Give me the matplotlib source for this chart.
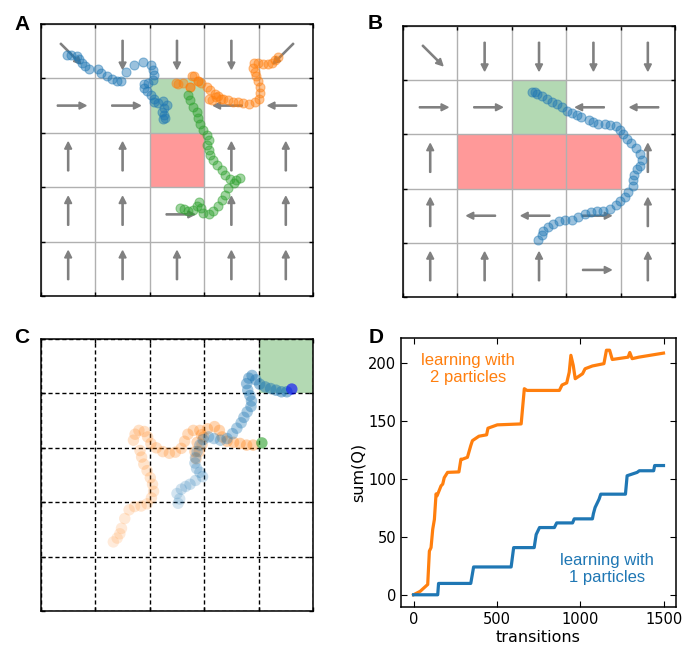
import numpy as np
import matplotlib
matplotlib.use("Agg")
import matplotlib.pyplot as plt
from matplotlib.patches import Rectangle

# ---------------- data ----------------
# policy arrows per grid row (top row first), per column
policy_a = [["DR", "D", "D", "D", "DL"],
            ["R", "R", "", "L", "L"],
            ["U", "U", "", "U", "U"],
            ["U", "U", "R", "U", "U"],
            ["U", "U", "U", "U", "U"]]
policy_b = [["DR", "D", "D", "D", "D"],
            ["R", "R", "", "L", "L"],
            ["U", "", "", "", "U"],
            ["U", "L", "L", "R", "U"],
            ["U", "U", "U", "R", "U"]]

goal_a = [(2, 3)]
hazard_a = [(2, 2)]
goal_b = [(2, 3)]
hazard_b = [(1, 2), (2, 2), (3, 2)]
goal_c = [(4, 4)]

# panel A trajectories
a_blue_x = [0.47, 0.56, 0.66, 0.70, 0.75, 0.81, 0.88, 1.04, 1.11, 1.21, 1.30, 1.39, 1.47, 1.57, 1.71,
            1.88, 2.02, 2.06, 2.08, 2.05, 1.97, 1.90, 1.90, 1.94, 2.02, 2.08, 2.08, 2.16, 2.24, 2.31,
            2.26, 2.22, 2.27, 2.28, 2.25]
a_blue_y = [4.43, 4.43, 4.41, 4.35, 4.28, 4.22, 4.17, 4.17, 4.10, 4.04, 3.98, 3.96, 3.95, 4.12, 4.25,
            4.30, 4.25, 4.15, 4.06, 3.97, 3.92, 3.90, 3.82, 3.76, 3.70, 3.62, 3.57, 3.55, 3.58, 3.52,
            3.46, 3.39, 3.32, 3.27, 3.25]
a_orange_x = [4.36, 4.30, 4.25, 4.18, 4.09, 3.99, 3.92, 3.90, 3.93, 3.96, 3.99, 4.03, 4.03, 4.01, 3.93,
              3.82, 3.72, 3.63, 3.53, 3.44, 3.35, 3.26, 3.19, 3.11, 3.08, 3.14, 3.22, 3.30, 3.05, 2.95,
              2.89, 2.82, 2.77, 2.74, 2.89, 2.74, 2.61, 2.52, 2.49]
a_orange_y = [4.40, 4.34, 4.28, 4.26, 4.26, 4.28, 4.29, 4.20, 4.12, 4.04, 3.96, 3.85, 3.74, 3.63, 3.57,
              3.53, 3.54, 3.56, 3.57, 3.60, 3.63, 3.67, 3.72, 3.79, 3.63, 3.60, 3.65, 3.62, 3.85, 3.92,
              3.95, 4.04, 4.04, 3.85, 3.95, 3.85, 3.92, 3.90, 3.91]
a_green_x = [2.71, 2.74, 2.80, 2.86, 2.89, 2.92, 2.98, 3.06, 3.08, 3.05, 3.08, 3.11, 3.17, 3.24, 3.32,
             3.38, 3.47, 3.58, 3.66, 3.54, 3.44, 3.38, 3.32, 3.26, 3.17, 3.08, 2.98, 2.94, 2.91, 2.86,
             2.80, 2.71, 2.62, 2.56]
a_green_y = [3.69, 3.60, 3.48, 3.39, 3.27, 3.16, 3.05, 2.96, 2.87, 2.78, 2.68, 2.59, 2.50, 2.41, 2.32,
             2.22, 2.15, 2.13, 2.17, 2.07, 1.98, 1.86, 1.76, 1.66, 1.56, 1.50, 1.52, 1.61, 1.73, 1.66,
             1.58, 1.56, 1.60, 1.62]

# panel B trajectory
b_blue_x = [2.37, 2.43, 2.46, 2.55, 2.64, 2.73, 2.83, 2.92, 3.01, 3.10, 3.19, 3.28, 3.41, 3.50, 3.59,
            3.71, 3.81, 3.92, 3.99, 4.05, 4.11, 4.19, 4.28, 4.36, 4.39, 4.36, 4.30, 4.25, 4.23, 4.22,
            4.14, 4.08, 3.99, 3.92, 3.81, 3.68, 3.57, 3.45, 3.35, 3.22, 3.10, 2.98, 2.86, 2.76, 2.67,
            2.58, 2.55, 2.49]
b_blue_y = [3.79, 3.79, 3.75, 3.70, 3.65, 3.60, 3.56, 3.50, 3.44, 3.39, 3.36, 3.32, 3.27, 3.23, 3.20,
            3.19, 3.17, 3.16, 3.09, 3.01, 2.91, 2.84, 2.74, 2.64, 2.53, 2.42, 2.36, 2.25, 2.16, 2.05,
            1.94, 1.85, 1.78, 1.70, 1.62, 1.59, 1.59, 1.56, 1.53, 1.48, 1.43, 1.43, 1.41, 1.35, 1.29,
            1.21, 1.14, 1.05]

# panel C trajectories
c_blue_x = [2.52, 2.55, 2.50, 2.58, 2.66, 2.74, 2.84, 2.97, 2.92, 2.86, 2.83, 2.84, 2.87, 2.92, 2.98,
            3.08, 3.18, 3.30, 3.42, 3.52, 3.60, 3.68, 3.73, 3.79, 3.86, 3.87, 3.84, 3.80, 3.78, 3.82,
            3.88, 3.95, 4.02, 4.12, 4.22, 4.32, 4.42, 4.52]
c_blue_y = [1.98, 2.06, 2.16, 2.24, 2.29, 2.33, 2.40, 2.47, 2.55, 2.62, 2.72, 2.82, 2.93, 3.05, 3.15,
            3.20, 3.17, 3.14, 3.17, 3.26, 3.36, 3.46, 3.56, 3.66, 3.76, 3.86, 3.96, 4.06, 4.18, 4.28,
            4.33, 4.25, 4.17, 4.12, 4.09, 4.06, 4.03, 4.03]
c_blue_end = (4.61, 4.08)
c_orange_x = [1.33, 1.40, 1.45, 1.48, 1.54, 1.62, 1.72, 1.84, 1.95, 2.03, 2.07, 2.05, 2.01, 1.95, 1.89,
              1.85, 1.82, 1.70, 1.73, 1.80, 1.90, 1.96, 2.02, 2.12, 2.24, 2.36, 2.47, 2.58, 2.64, 2.70,
              2.80, 2.92, 2.99, 2.96, 2.91, 2.85, 2.83, 2.87, 2.95, 3.06, 3.19, 3.28, 3.33, 3.42, 3.54,
              3.66, 3.78, 3.90]
c_orange_y = [1.27, 1.34, 1.42, 1.52, 1.70, 1.86, 1.92, 1.93, 1.97, 2.08, 2.20, 2.33, 2.45, 2.58, 2.70,
              2.83, 2.95, 3.14, 3.25, 3.32, 3.30, 3.20, 3.08, 3.00, 2.93, 2.90, 2.92, 2.99, 3.12, 3.25,
              3.32, 3.32, 3.20, 3.06, 2.93, 2.80, 2.93, 3.10, 3.24, 3.35, 3.39, 3.32, 3.20, 3.12, 3.10,
              3.08, 3.05, 3.05]
c_orange_end = (4.06, 3.09)

# panel D learning curves
orange_t = [0, 40, 85, 95, 105, 115, 125, 135, 141, 165, 175, 184, 204, 272, 284, 294, 323, 343, 353,
            392, 438, 446, 502, 645, 664, 680, 735, 874, 890, 918, 933, 943, 957, 969, 1013, 1028,
            1072, 1141, 1156, 1175, 1191, 1286, 1296, 1310, 1350, 1498]
orange_q = [0, 3, 8.9, 37.7, 40.7, 56.5, 65, 87, 85.4, 94, 95.5, 101, 105.6, 106, 117, 117, 118.6,
            128.7, 133, 136.8, 138, 143.7, 146.6, 147.4, 177.8, 176.3, 176.3, 176.3, 181, 182.8, 192,
            206.6, 198, 186.4, 190.7, 195, 197.4, 199.4, 211, 211, 203, 205, 209, 203.7, 205, 208.5]
blue_t = [0, 145, 150, 343, 360, 585, 600, 723, 735, 755, 844, 858, 953, 963, 1072, 1078, 1088, 1112,
          1122, 1270, 1280, 1340, 1353, 1439, 1445, 1498]
blue_q = [0, 0, 9.8, 9.8, 24, 24, 40.7, 40.7, 52, 58, 58, 62, 62, 65.5, 65.5, 70, 75.3, 82.5, 86.8,
          86.8, 102.7, 105.6, 107, 107, 111.5, 111.5]

x_ticks_d = [0, 500, 1000, 1500]
y_ticks_d = [0, 50, 100, 150, 200]

# ---------------- style ----------------
plt.rcParams["font.family"] = ["DejaVu Sans"]
GREEN_FILL = "#b3d9b3"
RED_FILL = "#ff9999"
ARROW_C = "#808080"
DIRS = {"U": (0, 1), "D": (0, -1), "L": (-1, 0), "R": (1, 0),
        "DR": (0.7071, -0.7071), "DL": (-0.7071, -0.7071)}

fig = plt.figure(figsize=(6.84, 6.45), dpi=100)
axA = fig.add_axes([0.0599, 0.5411, 0.3977, 0.4217])
axB = fig.add_axes([0.5892, 0.5395, 0.3977, 0.4202])
axC = fig.add_axes([0.0599, 0.0527, 0.3977, 0.4217])
axD = fig.add_axes([0.5863, 0.0589, 0.4020, 0.4171])


def setup_grid(ax, dashed=False):
    ax.set_xlim(0, 5)
    ax.set_ylim(0, 5)
    ax.set_xticks(range(6))
    ax.set_yticks(range(6))
    ax.set_xticklabels([])
    ax.set_yticklabels([])
    ax.tick_params(direction="in", top=True, right=True, length=3, width=1, color="black")
    if dashed:
        ax.grid(True, color="black", lw=1, ls=(0, (3, 2)))
    else:
        ax.grid(True, color="#b0b0b0", lw=1)
    for s in ax.spines.values():
        s.set_color("black")
        s.set_linewidth(1.1)


def fill_cells(ax, cells, color):
    for (cx, cy) in cells:
        ax.add_patch(Rectangle((cx, cy), 1, 1, facecolor=color, edgecolor="none", zorder=1))


def draw_policy(ax, policy):
    for r, row in enumerate(policy):
        for c, d in enumerate(row):
            if not d:
                continue
            ux, uy = DIRS[d]
            cx, cy = c + 0.5, 4.5 - r
            ax.arrow(cx - 0.2 * ux, cy - 0.2 * uy, 0.4 * ux, 0.4 * uy,
                     width=0.022, head_width=0.13, head_length=0.13,
                     length_includes_head=False, fc=ARROW_C, ec=ARROW_C, zorder=2)


MS = 42
# Panel A
setup_grid(axA)
fill_cells(axA, goal_a, GREEN_FILL)
fill_cells(axA, hazard_a, RED_FILL)
draw_policy(axA, policy_a)
axA.scatter(a_blue_x, a_blue_y, s=MS, color="tab:blue", alpha=0.45, linewidths=0.8, zorder=3)
axA.scatter(a_orange_x, a_orange_y, s=MS, color="tab:orange", alpha=0.45, linewidths=0.8, zorder=3)
axA.scatter(a_green_x, a_green_y, s=MS, color="tab:green", alpha=0.45, linewidths=0.8, zorder=3)

# Panel B
setup_grid(axB)
fill_cells(axB, goal_b, GREEN_FILL)
fill_cells(axB, hazard_b, RED_FILL)
draw_policy(axB, policy_b)
axB.scatter(b_blue_x, b_blue_y, s=MS, color="tab:blue", alpha=0.45, linewidths=0.8, zorder=3)

# Panel C
setup_grid(axC, dashed=True)
fill_cells(axC, goal_c, GREEN_FILL)


def fading_colors(base, n, a0, a1):
    rgba = np.array([matplotlib.colors.to_rgba(base)] * n)
    rgba[:, 3] = np.linspace(a0, a1, n)
    return rgba


axC.scatter(c_orange_x, c_orange_y, s=68, c=fading_colors("tab:orange", len(c_orange_x), 0.15, 0.35),
            edgecolors="none", zorder=3)
axC.scatter(c_blue_x, c_blue_y, s=68, c=fading_colors("tab:blue", len(c_blue_x), 0.18, 0.5),
            edgecolors="none", zorder=3)
axC.scatter([c_orange_end[0]], [c_orange_end[1]], s=68, color="tab:green", alpha=0.6,
            edgecolors="none", zorder=4)
axC.scatter([c_blue_end[0]], [c_blue_end[1]], s=68, color="blue", alpha=0.6,
            edgecolors="none", zorder=4)

# Panel D
axD.plot(orange_t, orange_q, color="tab:orange", lw=2.3)
axD.plot(blue_t, blue_q, color="tab:blue", lw=2.3)
axD.set_xticks(x_ticks_d)
axD.set_yticks(y_ticks_d)
axD.tick_params(direction="in", top=True, right=True, length=4, labelsize=10.5)
axD.set_xlabel("transitions", fontsize=11.5, labelpad=2)
axD.set_ylabel("sum(Q)", fontsize=11.5, labelpad=2)
for s in axD.spines.values():
    s.set_linewidth(1.1)
axD.text(325, 195, "learning with\n2 particles", color="tab:orange", fontsize=12,
         ha="center", va="center", family=["Liberation Sans", "DejaVu Sans"], linespacing=1.2)
axD.text(1158, 22, "learning with\n1 particles", color="tab:blue", fontsize=12,
         ha="center", va="center", family=["Liberation Sans", "DejaVu Sans"], linespacing=1.2)

# panel letters
for lab, (px, py) in zip("ABCD", [(14, 30), (368, 29), (14, 343), (369, 343)]):
    fig.text(px / 684, 1 - py / 645, lab, fontsize=15, fontweight="bold",
             family=["Liberation Sans", "DejaVu Sans"], ha="left", va="baseline")

fig.savefig("out.png", dpi=100)
